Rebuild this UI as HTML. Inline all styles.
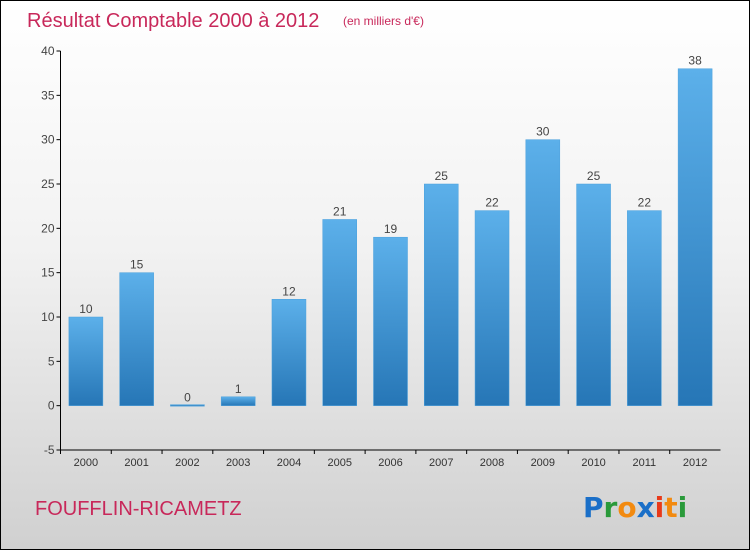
<!DOCTYPE html>
<html><head><meta charset="utf-8"><style>
html,body{margin:0;padding:0;}
body{width:750px;height:550px;overflow:hidden;font-family:"Liberation Sans",sans-serif;}
#wrap{position:relative;width:748px;height:548px;border:1px solid #000;background:linear-gradient(#ffffff 0%,#f2f2f2 45%,#d0d0d0 100%);}
</style></head><body>
<div id="wrap">
<svg id="chart" width="748" height="548" style="position:absolute;left:0;top:0">
<defs>
<linearGradient id="bg" x1="0" y1="0" x2="0" y2="1"><stop offset="0" stop-color="#5cb0ea"/><stop offset="1" stop-color="#2676b6"/></linearGradient>
</defs>
<text x="26" y="26" font-size="20" fill="#c8285a">Résultat Comptable 2000 à 2012</text>
<text x="342" y="24" font-size="12" fill="#c8285a">(en milliers d'€)</text>
<text x="34" y="514" font-size="20" fill="#c8285a">FOUFFLIN-RICAMETZ</text>
<g font-size="28" font-family="'DejaVu Sans',sans-serif" font-weight="bold">
<text x="582" y="516"><tspan fill="#1a6fc8">P</tspan><tspan fill="#2a9a3a">r</tspan><tspan fill="#f28a10">o</tspan><tspan fill="#1a6fc8">x</tspan><tspan fill="#e83a1a">i</tspan><tspan fill="#f28a10">t</tspan><tspan fill="#2a9a3a">i</tspan></text>
</g>
<g id="axes"></g>
<g id="bars"></g>
</svg>
</div>
<script>
const categories=["2000","2001","2002","2003","2004","2005","2006","2007","2008","2009","2010","2011","2012"];
const values=[10,15,0,1,12,21,19,25,22,30,25,22,38];
const yTicks=[-5,0,5,10,15,20,25,30,35,40];
const NS="http://www.w3.org/2000/svg";
const yMin=-5,yMax=40,plotTop=50,plotBot=449,plotLeft=59.5,plotRight=719.5;
function yScale(v){return plotBot-(v-yMin)/(yMax-yMin)*(plotBot-plotTop);}
const step=(plotRight-plotLeft)/categories.length;
function xc(i){return plotLeft+step*(i+0.5);}
function mk(t,a,p){const e=document.createElementNS(NS,t);for(const k in a)e.setAttribute(k,a[k]);p.appendChild(e);return e;}
const ax=document.getElementById('axes'),bars=document.getElementById('bars');
const yl=mk('line',{x1:plotLeft,y1:plotTop,x2:plotLeft,y2:plotBot,stroke:'#000'},ax);


const xl=mk('line',{x1:plotLeft,y1:plotBot,x2:plotRight,y2:plotBot,stroke:'#000'},ax);


yTicks.forEach(v=>{
 mk('line',{x1:plotLeft-4,y1:yScale(v),x2:plotLeft,y2:yScale(v),stroke:'#000'},ax);
 const t=mk('text',{x:plotLeft-6,y:yScale(v)+4,'text-anchor':'end','font-size':12,fill:'#444'},ax);
 t.textContent=v;
 
 
});
categories.forEach((c,i)=>{
 const xx=xc(i);
 mk('line',{x1:plotLeft+step*i,y1:plotBot,x2:plotLeft+step*i,y2:plotBot+4,stroke:'#000'},ax);
 const t=mk('text',{x:xx,y:plotBot+16,'text-anchor':'middle','font-size':11,fill:'#333'},ax);
 t.textContent=c;
 
 
 const v=values[i];const y0=yScale(0),y1=yScale(v);
 const h=Math.max(Math.abs(y0-y1),1.5);
 const r=mk('rect',{x:xx-17,y:Math.min(y0,y1)-(v===0?1:0),width:34,height:h,fill:'url(#bg)',stroke:'#4aa0dc','stroke-width':0.5},bars);
 
 
 const l=mk('text',{x:xx,y:Math.min(y0,y1)-4,'text-anchor':'middle','font-size':12,fill:'#444'},bars);
 l.textContent=v;
 
 
});
</script>
</body></html>
